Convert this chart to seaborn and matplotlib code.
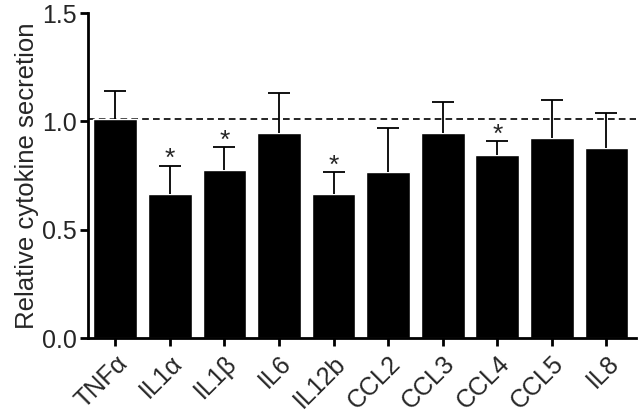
import numpy as np
import pandas as pd
import matplotlib
matplotlib.use("Agg")
import matplotlib.pyplot as plt
import seaborn as sns

# values
cytokines = ["TNFα", "IL1α", "IL1β", "IL6", "IL12b", "CCL2", "CCL3", "CCL4", "CCL5", "IL8"]
means = [1.01, 0.665, 0.775, 0.945, 0.665, 0.765, 0.945, 0.845, 0.925, 0.875]
upper = [1.14, 0.795, 0.88, 1.13, 0.765, 0.97, 1.09, 0.91, 1.10, 1.04]
significant = ["IL1α", "IL1β", "IL12b", "CCL4"]

df = pd.DataFrame({"cytokine": cytokines, "value": means, "upper": upper})

sns.set_theme(style="ticks")
plt.rcParams["font.family"] = ["Liberation Sans", "DejaVu Sans"]

fig = plt.figure(figsize=(6.4, 4.15), dpi=100)
ax = fig.add_axes([0.1375, 0.1855, 0.857, 0.783])

sns.barplot(data=df, x="cytokine", y="value", color="black", saturation=1,
            width=0.8, errorbar=None, ax=ax)

# upward-only error bars (hide the lower cap sitting on the bar top)
err = df["upper"] - df["value"]
_, caps, _ = ax.errorbar(np.arange(len(df)), df["value"], yerr=[np.zeros(len(df)), err],
                         fmt="none", ecolor="black", elinewidth=1.3, capsize=8, capthick=1.3)
caps[0].set_visible(False)

# reference line at control level
ax.axhline(means[0], color="black", linestyle=(0, (4, 2.5)), linewidth=1.2, zorder=0.5)

# significance stars
for i, row in df.iterrows():
    if row["cytokine"] in significant:
        ax.text(i, row["upper"] + 0.03, "*", ha="center", va="center", fontsize=19)

ax.set_ylim(0, 1.5)
ax.set_xlim(-0.5, 9.55)
ax.set_yticks([0.0, 0.5, 1.0, 1.5])
ax.set_yticklabels(["0.0", "0.5", "1.0", "1.5"])
ax.set_xlabel("")
ax.set_ylabel("Relative cytokine secretion", fontsize=18.5, labelpad=2)
ax.tick_params(axis="both", labelsize=18, width=2, length=6, color="black")
ax.tick_params(axis="y", pad=2)
plt.setp(ax.get_xticklabels(), rotation=45, ha="right", rotation_mode="anchor")

sns.despine(ax=ax)
for side in ["left", "bottom"]:
    ax.spines[side].set_linewidth(2)
    ax.spines[side].set_color("black")

fig.savefig("out.png", dpi=100)
